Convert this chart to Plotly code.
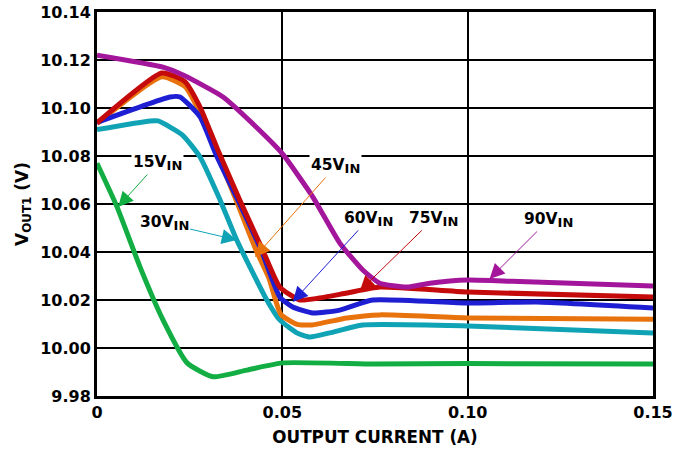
import plotly.graph_objects as go

# ---- data ----
x90 = [0, 0.0178, 0.0235, 0.034, 0.043, 0.05, 0.0582, 0.0655, 0.0717, 0.0763, 0.0836, 0.0898, 0.10, 0.112, 0.15]
y90 = [10.122, 10.117, 10.1135, 10.1046, 10.092, 10.081, 10.063, 10.0437, 10.0325, 10.027, 10.0254, 10.027, 10.0283, 10.0278, 10.0258]

x75 = [0, 0.0175, 0.0237, 0.0278, 0.0326, 0.0385, 0.0447, 0.0493, 0.0547, 0.06, 0.0674, 0.0763, 0.10, 0.15]
y75 = [10.0938, 10.1146, 10.111, 10.1004, 10.0825, 10.0617, 10.0408, 10.0254, 10.02, 10.0208, 10.0229, 10.0254, 10.0233, 10.0213]

x60 = [0, 0.0197, 0.0224, 0.0278, 0.032, 0.038, 0.0443, 0.0493, 0.0528, 0.0582, 0.0655, 0.0744, 0.10, 0.1186, 0.15]
y60 = [10.094, 10.1046, 10.1046, 10.0963, 10.081, 10.0617, 10.0408, 10.0213, 10.0171, 10.0146, 10.0158, 10.02, 10.0187, 10.0192, 10.0167]

x45 = [0, 0.0175, 0.0237, 0.0278, 0.032, 0.0375, 0.0429, 0.0464, 0.0496, 0.054, 0.058, 0.0674, 0.0763, 0.10, 0.15]
y45 = [10.0935, 10.113, 10.109, 10.098, 10.0825, 10.0617, 10.0408, 10.029, 10.014, 10.0098, 10.0096, 10.0125, 10.0138, 10.0125, 10.012]

x30 = [0, 0.0143, 0.0165, 0.023, 0.0278, 0.0332, 0.0377, 0.0458, 0.0493, 0.0539, 0.0574, 0.0628, 0.0717, 0.10, 0.15]
y30 = [10.091, 10.0946, 10.0946, 10.0888, 10.0796, 10.0617, 10.045, 10.02, 10.0117, 10.0063, 10.0046, 10.0063, 10.0096, 10.0092, 10.0063]

x15 = [0, 0.0054, 0.0116, 0.0178, 0.0243, 0.0313, 0.0404, 0.0501, 0.075, 0.10, 0.15]
y15 = [10.077, 10.0588, 10.0338, 10.0117, 9.9938, 9.988, 9.9908, 9.9938, 9.9933, 9.9935, 9.9933]

labels = ["15V", "30V", "45V", "60V", "75V", "90V"]
x_ticks = [0, 0.05, 0.10, 0.15]
x_tick_text = ["0", "0.05", "0.10", "0.15"]
y_ticks = [9.98, 10.00, 10.02, 10.04, 10.06, 10.08, 10.10, 10.12, 10.14]

# label centres and arrow heads (data coordinates)
label_pos = {"15V": (0.0164, 10.0771), "30V": (0.0181, 10.0521), "45V": (0.0644, 10.0758),
             "60V": (0.0733, 10.0538), "75V": (0.0908, 10.0538), "90V": (0.1218, 10.0533)}
arrow_head = {"15V": (0.0057, 10.0588), "30V": (0.0377, 10.045), "45V": (0.0426, 10.0379),
              "60V": (0.0528, 10.0192), "75V": (0.0709, 10.0238), "90V": (0.1059, 10.0288)}

colors = {"15V": "#12AE43", "30V": "#0FA3B5", "45V": "#E8720C", "60V": "#1E1ED2",
          "75V": "#C40A0A", "90V": "#A3169B"}

series = {"15V": (x15, y15), "30V": (x30, y30), "45V": (x45, y45),
          "60V": (x60, y60), "75V": (x75, y75), "90V": (x90, y90)}

FONT = "DejaVu Sans"

fig = go.Figure()
for name in ["15V", "30V", "45V", "60V", "75V", "90V"]:
    xs, ys = series[name]
    fig.add_trace(go.Scatter(x=xs, y=ys, mode="lines",
                             line=dict(color=colors[name], width=5, shape="spline", smoothing=0.5),
                             showlegend=False, hoverinfo="skip"))

annotations = []
for name in labels:
    hx, hy = arrow_head[name]
    lx, ly = label_pos[name]
    annotations.append(dict(x=hx, y=hy, ax=lx, ay=ly, xref="x", yref="y", axref="x", ayref="y",
                            text="<b>" + name + "<sub><span style='font-size:13px'>IN</span></sub></b>",
                            font=dict(family=FONT, size=15.5, color="black"),
                            showarrow=True, arrowhead=2, arrowsize=3, arrowwidth=1,
                            arrowcolor=colors[name], bgcolor="white", borderpad=1))

fig.update_layout(
    width=675, height=449,
    margin=dict(l=97, r=22, t=12, b=53),
    paper_bgcolor="white", plot_bgcolor="white",
    font=dict(family=FONT, size=15, color="black"),
    annotations=annotations,
    xaxis=dict(range=[0, 0.15], tickvals=x_ticks, ticktext=x_tick_text, automargin=False,
               ticklabeloverflow="allow",
               showgrid=True, gridcolor="black", gridwidth=2,
               showline=True, linecolor="black", linewidth=3, mirror=True,
               zeroline=False, ticks="", tickfont=dict(family=FONT, size=16, weight="bold"),
               title=dict(text="<b>OUTPUT CURRENT (A)</b>", font=dict(family=FONT, size=16.8), standoff=11)),
    yaxis=dict(range=[9.98, 10.14], tickvals=y_ticks, tickformat=".2f", automargin=False,
               ticklabeloverflow="allow",
               showgrid=True, gridcolor="black", gridwidth=2,
               showline=True, linecolor="black", linewidth=3, mirror=True,
               zeroline=False, ticks="", tickfont=dict(family=FONT, size=16, weight="bold"),
               title=dict(text="<b>V<sub>OUT1</sub> (V)</b>", font=dict(family=FONT, size=17), standoff=8)),
)

# remove the default 8px page margin so the figure fills the 675x449 window exactly
fig.write_html("out.html", config={"displayModeBar": False},
               post_script="document.body.style.margin='0';document.body.style.overflow='hidden';")
